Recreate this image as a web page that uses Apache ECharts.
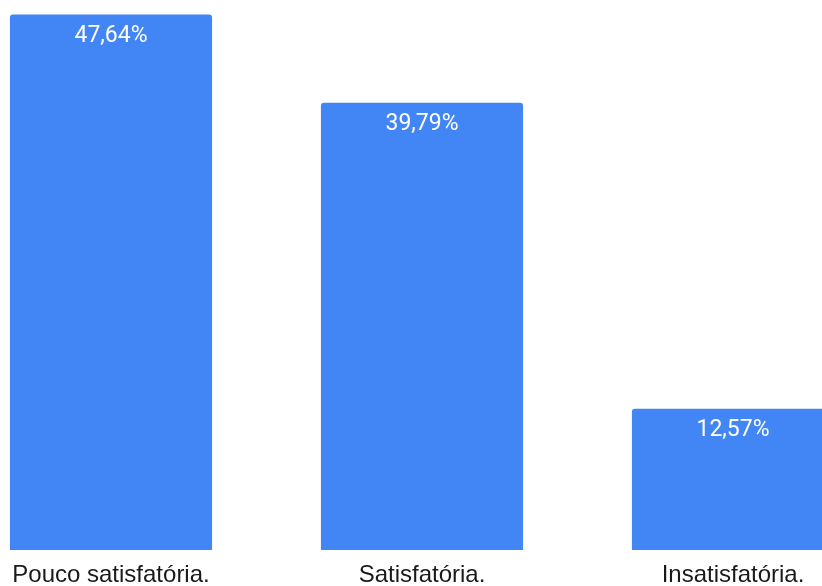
<!DOCTYPE html>
<html>
<head>
<meta charset="utf-8">
<script src="https://cdn.jsdelivr.net/npm/echarts@6/dist/echarts.min.js"></script>
<style>html,body{margin:0;padding:0;background:#fff;}#c{width:822px;height:586px;}</style>
</head>
<body>
<div id="c"></div>
<script>
const categories = ['Pouco satisfatória.', 'Satisfatória.', 'Insatisfatória.'];
const values = [47.64, 39.79, 12.57];
const valueLabels = ['47,64%', '39,79%', '12,57%'];

const chart = echarts.init(document.getElementById('c'), null, {renderer: 'canvas'});
chart.setOption({
  animation: false,
  backgroundColor: '#ffffff',
  grid: {left: -44.5, width: 933, top: 14.5, bottom: 36, containLabel: false, outerBoundsMode: 'none'},
  xAxis: {
    type: 'category',
    data: categories,
    axisLine: {show: false},
    axisTick: {show: false},
    axisLabel: {
      color: '#1a1a1a',
      fontFamily: 'Liberation Sans',
      fontSize: 24,
      margin: 13,
      interval: 0
    }
  },
  yAxis: {
    type: 'value',
    min: 0,
    max: 47.64,
    show: false,
    splitLine: {show: false}
  },
  series: [{
    type: 'bar',
    data: values,
    barCategoryGap: '35%',
    itemStyle: {color: '#4285F4', borderRadius: [3, 3, 0, 0]},
    label: {
      show: true,
      position: 'insideTop',
      distance: 10,
      color: '#ffffff',
      fontFamily: 'Roboto',
      fontSize: 23,
      formatter: p => valueLabels[p.dataIndex]
    }
  }]
});
</script>
</body>
</html>
